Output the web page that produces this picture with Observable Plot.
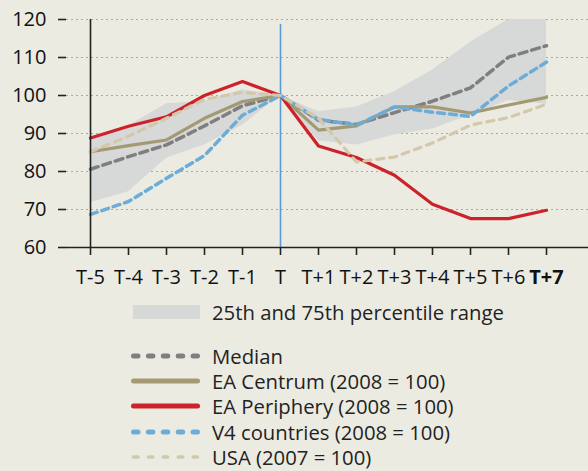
<!DOCTYPE html>
<html>
<head>
<meta charset="utf-8">
<script src="https://cdn.jsdelivr.net/npm/d3@7"></script>
<script src="https://cdn.jsdelivr.net/npm/@observablehq/plot@0.6"></script>
<style>
  html, body { margin: 0; padding: 0; background: #ECEBE2; }
  #wrap { position: relative; width: 588px; height: 471px; background: #ECEBE2; font-family: "Open Sans", Lato, sans-serif; color: #222; overflow: hidden; }
  #chart svg { display: block; }
  .leg { position: absolute; left: 0; font-size: 20.3px; line-height: 1; white-space: nowrap; }
  .leg svg { position: absolute; left: 131px; }
  .leg span { position: absolute; left: 212px; transform: translateY(-50%); }
</style>
</head>
<body>
<div id="wrap">
  <div id="chart"></div>
  <div id="legend"></div>
</div>
<script>
const periods = ["T-5","T-4","T-3","T-2","T-1","T","T+1","T+2","T+3","T+4","T+5","T+6","T+7"];
const yTicks = [60, 70, 80, 90, 100, 110, 120];
const pctUpper = [88, 92, 97.8, 98.5, 101.5, 100, 95.7, 97, 101, 106.7, 114, 120, 120];
const pctLower = [71.8, 74.7, 83.5, 87, 92.2, 100, 88, 87, 89.6, 91.2, 94.8, 98.7, 97.7];
const median = [80.6, 83.9, 87, 92, 97.3, 100, 93.5, 92.4, 95.5, 98.5, 102, 110.1, 113.1];
const eaCentrum = [85.2, 86.8, 88.3, 94, 98.4, 100, 90.9, 92, 97, 97, 95.4, 97.5, 99.5];
const eaPeriphery = [88.8, 91.9, 94.4, 100, 103.7, 100, 86.7, 83.7, 79, 71.4, 67.6, 67.6, 69.8];
const v4 = [68.7, 72.1, 78.2, 84.2, 94.8, 100, 93.7, 92.2, 97, 95.6, 94.5, 102.5, 108.8];
const usa = [85.2, 89.3, 94, 99, 100.8, 100, 94, 82.5, 83.8, 87.5, 92.2, 94.2, 97.7];
const crisisPeriod = "T";

const bandLabel = "25th and 75th percentile range";
const seriesLabels = ["Median", "EA Centrum (2008 = 100)", "EA Periphery (2008 = 100)", "V4 countries (2008 = 100)", "USA (2007 = 100)"];

const colors = {
  band: "#D7D8D8",
  median: "#7F7F7F",
  centrum: "#A39A74",
  periphery: "#CC2229",
  v4: "#6BADD8",
  usa: "#D3C8AA",
  crisis: "#5B9BD5",
  axis: "#222"
};

const rows = periods.map((p, i) => ({
  period: p, lo: pctLower[i], hi: pctUpper[i],
  median: median[i], centrum: eaCentrum[i], periphery: eaPeriphery[i], v4: v4[i], usa: usa[i]
}));

const chart = Plot.plot({
  width: 588,
  height: 295,
  marginLeft: 66,
  marginRight: 0,
  marginTop: 19,
  marginBottom: 48,
  style: { background: "transparent", fontFamily: "'Open Sans', Lato, sans-serif", fontSize: "20px", color: "#222" },
  x: { type: "point", domain: periods, range: [66, 570] },
  y: { domain: [60, 120] },
  marks: [
    Plot.gridY(yTicks, { stroke: "#A8A8A8", strokeOpacity: 1, strokeWidth: 1.2, strokeDasharray: "2,3" }),
    Plot.areaY(rows, { x: "period", y1: "lo", y2: "hi", fill: colors.band }),
    Plot.ruleX([crisisPeriod], { y1: 118.7, y2: 60, stroke: colors.crisis, strokeWidth: 1.6 }),
    Plot.lineY(rows, { x: "period", y: "median", stroke: colors.median, strokeWidth: 3.5, strokeDasharray: "8,5" }),
    Plot.lineY(rows, { x: "period", y: "centrum", stroke: colors.centrum, strokeWidth: 3.2 }),
    Plot.lineY(rows, { x: "period", y: "periphery", stroke: colors.periphery, strokeWidth: 3.2 }),
    Plot.lineY(rows, { x: "period", y: "v4", stroke: colors.v4, strokeWidth: 3.5, strokeDasharray: "7,5" }),
    Plot.lineY(rows, { x: "period", y: "usa", stroke: colors.usa, strokeWidth: 3.2, strokeDasharray: "7,6" }),
    Plot.ruleX([periods[0]], { y1: 120, y2: 60, stroke: colors.axis, strokeWidth: 1.6 }),
    Plot.ruleY([60], { stroke: colors.axis, strokeWidth: 1.6 }),
    Plot.axisY(yTicks, { tickSize: 8, tickPadding: 12, stroke: colors.axis, strokeWidth: 1.6, label: null, fill: "#111" }),
    Plot.axisX({ tickSize: 8, tickPadding: 14, stroke: colors.axis, strokeWidth: 1.6, label: null, fill: "#111" })
  ]
});
document.getElementById("chart").appendChild(chart);

// last x tick label appears bold in the reference
const xLabels = d3.select(chart).selectAll("g[aria-label='x-axis tick label'] text");
xLabels.filter((d, i, n) => i === n.length - 1).attr("font-weight", "bold");

// legend
const legend = d3.select("#legend");
const bandRow = legend.append("div").attr("class", "leg").style("top", "312px");
bandRow.append("svg").attr("width", 70).attr("height", 14).style("top", "-7px").style("left", "133px")
  .append("rect").attr("width", 67).attr("height", 14).attr("fill", colors.band);
bandRow.append("span").text(bandLabel);

const legendStyles = [
  { color: colors.median, width: 5, dash: "4.5,10.4" },
  { color: colors.centrum, width: 5, dash: null },
  { color: colors.periphery, width: 5, dash: null },
  { color: colors.v4, width: 5, dash: "4.5,10.4" },
  { color: colors.usa, width: 3.5, dash: "4.5,10.4" }
];
const rowY = [355.5, 380.5, 406, 431.5, 457];
seriesLabels.forEach((lab, i) => {
  const r = legend.append("div").attr("class", "leg").style("top", rowY[i] + "px");
  const s = r.append("svg").attr("width", 70).attr("height", 10).style("top", "-5px");
  const st = legendStyles[i];
  const ln = s.append("line").attr("x1", 2.5).attr("x2", 66.5).attr("y1", 5).attr("y2", 5)
    .attr("stroke", st.color).attr("stroke-width", st.width).attr("stroke-linecap", "round");
  if (st.dash) ln.attr("stroke-dasharray", st.dash);
  r.append("span").text(lab);
});
</script>
</body>
</html>
